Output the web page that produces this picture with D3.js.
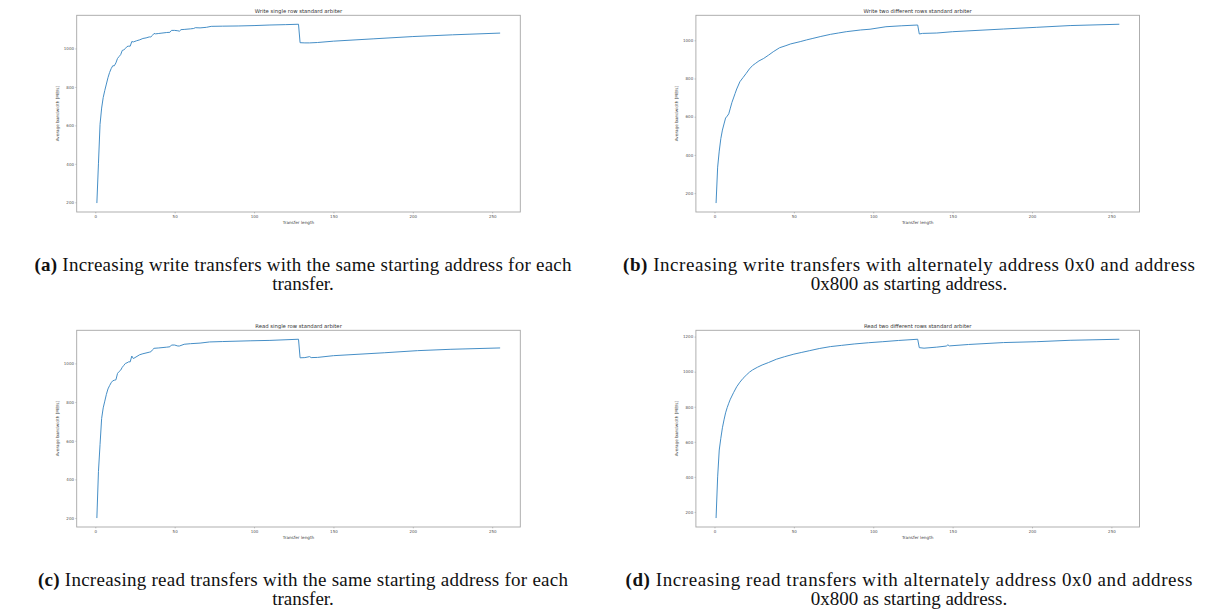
<!DOCTYPE html>
<html>
<head>
<meta charset="utf-8">
<script src="https://cdn.jsdelivr.net/npm/d3@7"></script>
<style>
	body { margin: 0; background: #fff; }
	.tick-lbl { font-family: 'DejaVu Sans', sans-serif; font-size: 4px; fill: #555; }
	.axis-lbl { font-family: 'DejaVu Sans', sans-serif; font-size: 4.2px; fill: #444; }
	.title { font-family: 'DejaVu Sans', sans-serif; font-size: 5.3px; fill: #333; }
	.caption { font-family: 'Liberation Serif', serif; font-size: 19px; fill: #111; }
</style>
</head>
<body>
<svg id="fig" width="1210" height="615"></svg>
<script>
// tick labels
var ticksX = [0, 50, 100, 150, 200, 250];
var ticksY = [200, 400, 600, 800, 1000];
var ticksYRead2 = [200, 400, 600, 800, 1000, 1200];

// (a) write, single row
var writeSingleLen = [1, 2, 3, 4, 5, 6, 7, 8, 9, 10, 11, 12, 13, 14, 15, 16, 17, 18, 19, 20, 21, 22, 23, 24, 25, 26,
	28, 30, 32, 34, 35, 36, 37, 38, 40, 42, 45, 47, 48, 50, 52, 53, 54, 56, 60, 62, 63, 66, 70, 73, 80, 90, 100, 110, 120,
	128, 129, 132, 135, 140, 150, 175, 200, 225, 255];
var writeSingleBw = [196, 400, 605, 690, 745, 782, 815, 848, 875, 895, 910, 910, 925, 948, 958, 968, 990, 993, 1000, 1010,
	1012, 1012, 1036, 1034, 1037, 1040, 1045, 1052, 1055, 1060, 1060, 1068, 1078, 1076, 1078, 1080, 1083, 1084, 1094, 1094,
	1092, 1090, 1098, 1099, 1102, 1104, 1108, 1107, 1110, 1115, 1116, 1117, 1119, 1122, 1124, 1126, 1030, 1029, 1029, 1031,
	1038, 1050, 1062, 1071, 1080];

// (b) write, two rows
var writeTwoLen = [1, 2, 3, 4, 5, 6, 7, 8, 9, 10, 11, 12, 13, 14, 16, 18, 20, 22, 24, 26, 28, 31, 34, 37, 41, 45, 48, 54,
	58, 62, 67, 73, 78, 83, 92, 98, 108, 118, 128, 129, 131, 140, 150, 182, 203, 224, 255];
var writeTwoBw = [148, 336, 420, 485, 530, 562, 593, 603, 615, 645, 675, 698, 722, 745, 783, 805, 827, 850, 868, 880, 892,
	905, 922, 940, 961, 972, 981, 993, 1002, 1010, 1020, 1031, 1038, 1045, 1054, 1058, 1071, 1076, 1080, 1033, 1036, 1038,
	1045, 1059, 1068, 1077, 1084];

// (c) read, single row
var readSingleLen = [1, 2, 3, 4, 5, 6, 7, 8, 9, 10, 11, 12, 13, 14, 15, 16, 17, 18, 19, 20, 21, 22, 23, 24, 25, 28, 30,
	34, 35, 36, 37, 40, 45, 47, 48, 50, 52, 53, 56, 60, 66, 72, 80, 98, 110, 128, 129, 132, 135, 136, 140, 150, 182, 203,
	224, 255];
var readSingleBw = [200, 440, 580, 715, 770, 805, 840, 868, 885, 900, 910, 913, 915, 948, 958, 965, 980, 990, 1000, 1003,
	1008, 1008, 1038, 1025, 1030, 1045, 1050, 1058, 1060, 1070, 1078, 1080, 1084, 1086, 1095, 1095, 1090, 1090, 1099, 1102,
	1105, 1111, 1113, 1117, 1119, 1125, 1029, 1030, 1035, 1030, 1031, 1040, 1055, 1066, 1073, 1080];

// (d) read, two rows
var readTwoLen = [1, 2, 3, 4, 5, 6, 7, 8, 9, 10, 12, 14, 16, 18, 20, 22, 24, 27, 30, 34, 39, 44, 50, 55, 60, 66, 73, 80,
	88, 97, 106, 116, 128, 129, 132, 140, 146, 147, 148, 160, 182, 203, 224, 255];
var readTwoBw = [165, 400, 553, 620, 680, 725, 765, 795, 820, 843, 880, 914, 940, 962, 980, 997, 1010, 1025, 1038, 1052,
	1071, 1085, 1100, 1110, 1120, 1132, 1143, 1150, 1158, 1165, 1171, 1178, 1185, 1137, 1134, 1140, 1146, 1153, 1147, 1155,
	1166, 1171, 1179, 1185];

var titles = ['Write single row standard arbiter', 'Write two different rows standard arbiter',
	'Read single row standard arbiter', 'Read two different rows standard arbiter'];
var captionTags = ['(a)', '(b)', '(c)', '(d)'];
var captionLines = [
	[' Increasing write transfers with the same starting address for each', 'transfer.'],
	[' Increasing write transfers with alternately address 0x0 and address', '0x800 as starting address.'],
	[' Increasing read transfers with the same starting address for each', 'transfer.'],
	[' Increasing read transfers with alternately address 0x0 and address', '0x800 as starting address.']
];

function zip(xs, ys) {
	return xs.map(function (x, i) { return {x: x, y: ys[i]}; });
}

function padded(ext) {
	var p = (ext[1] - ext[0]) * 0.05;
	return [ext[0] - p, ext[1] + p];
}

function Panel(svg, opt) {
	var width = 443.6, height = 196.7;
	var g = svg.append('g').attr('transform', 'translate(' + opt.left + ',' + opt.top + ')');
	var data = zip(opt.xs, opt.ys);

	var scaleX = d3.scaleLinear().range([0, width]).domain(padded(d3.extent(opt.xs)));
	var scaleY = d3.scaleLinear().range([height, 0]).domain(padded(d3.extent(opt.ys)));

	var line = d3.line().x(function (d) { return scaleX(d.x); }).y(function (d) { return scaleY(d.y); });

	var xAxis = g.append('g')
		.attr('transform', 'translate(0,' + height + ')')
		.call(d3.axisBottom(scaleX).tickValues(ticksX).tickFormat(d3.format('d'))
			.tickSize(1.3).tickPadding(1.8).tickSizeOuter(0));
	var yAxis = g.append('g')
		.call(d3.axisLeft(scaleY).tickValues(opt.ticksY).tickFormat(d3.format('d'))
			.tickSize(1.3).tickPadding(1.4).tickSizeOuter(0));

	[xAxis, yAxis].forEach(function (a) {
		a.select('.domain').remove();
		a.selectAll('line').attr('stroke', '#777').attr('stroke-width', 0.5);
		a.selectAll('text').attr('class', 'tick-lbl').attr('font-size', null).attr('font-family', null).attr('fill', null);
	});

	// frame
	g.append('rect')
		.attr('width', width)
		.attr('height', height)
		.attr('fill', 'none')
		.attr('stroke', '#a6a6a6')
		.attr('stroke-width', 0.9);

	g.append('path')
		.datum(data)
		.attr('fill', 'none')
		.attr('stroke', '#3b88c3')
		.attr('stroke-linejoin', 'round')
		.attr('stroke-width', 0.95)
		.attr('d', line);

	g.append('text')
		.attr('class', 'title')
		.attr('x', width / 2)
		.attr('y', -2.5)
		.attr('text-anchor', 'middle')
		.text(opt.title);

	g.append('text')
		.attr('class', 'axis-lbl')
		.attr('x', width / 2)
		.attr('y', height + 12)
		.attr('text-anchor', 'middle')
		.text('Transfer length');

	g.append('text')
		.attr('class', 'axis-lbl')
		.attr('transform', 'translate(-17.5,' + (height / 2) + ') rotate(-90)')
		.attr('text-anchor', 'middle')
		.text('Average bandwidth [MB/s]');

	var cap = svg.append('g').attr('class', 'caption');
	var t1 = cap.append('text')
		.attr('x', opt.capX)
		.attr('y', opt.capY)
		.attr('text-anchor', 'middle')
		.attr('textLength', opt.capW)
		.attr('lengthAdjust', 'spacing');
	t1.append('tspan').attr('font-weight', 'bold').text(opt.tag);
	t1.append('tspan').text(opt.lines[0]);
	cap.append('text')
		.attr('x', opt.capX)
		.attr('y', opt.capY + 19)
		.attr('text-anchor', 'middle')
		.text(opt.lines[1]);
}

var svg = d3.select('#fig');
svg.append('rect').attr('width', 1210).attr('height', 615).attr('fill', '#fff');

var series = [[writeSingleLen, writeSingleBw], [writeTwoLen, writeTwoBw], [readSingleLen, readSingleBw], [readTwoLen, readTwoBw]];
var lefts = [76.7, 695.9], tops = [15.3, 330.3];
var capXs = [303, 909], capYs = [271, 586], capWs = [537, 572, 530, 567];

series.forEach(function (s, i) {
	new Panel(svg, {
		left: lefts[i % 2],
		top: tops[Math.floor(i / 2)],
		xs: s[0],
		ys: s[1],
		ticksY: i == 3 ? ticksYRead2 : ticksY,
		title: titles[i],
		tag: captionTags[i],
		lines: captionLines[i],
		capX: capXs[i % 2],
		capY: capYs[Math.floor(i / 2)],
		capW: capWs[i]
	});
});
</script>
</body>
</html>
